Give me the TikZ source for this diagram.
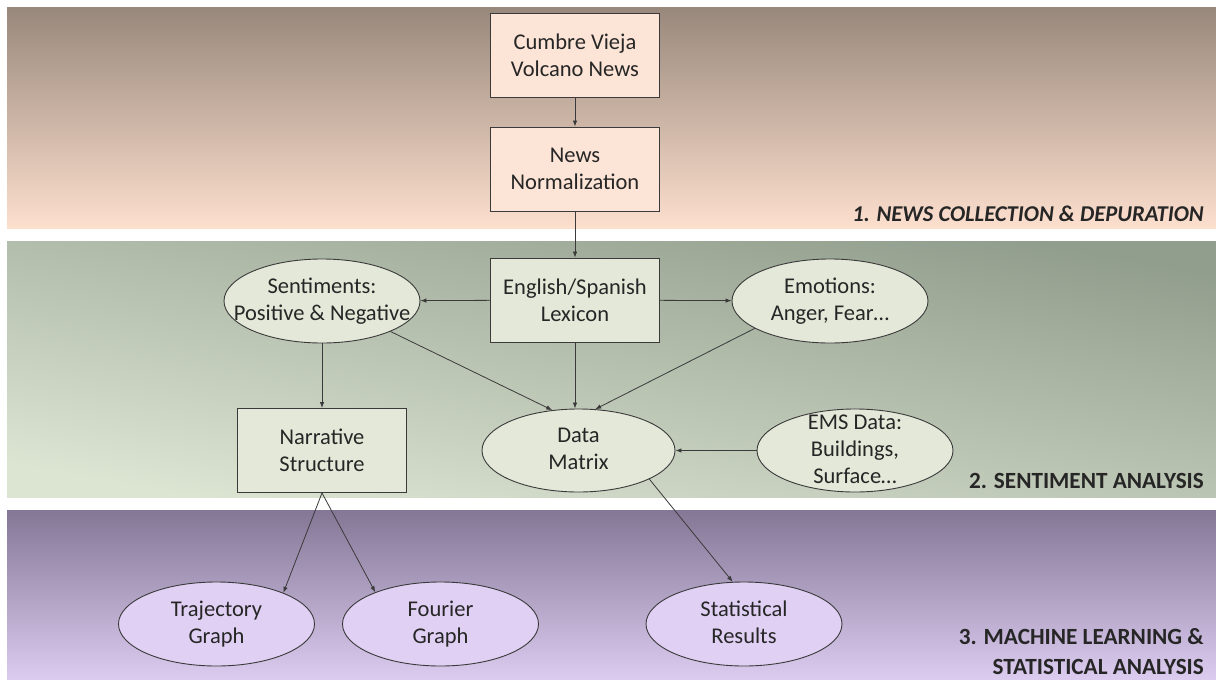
\documentclass[tikz,border=0pt]{standalone}
\usepackage{fontspec}
\setmainfont{Carlito}
\usetikzlibrary{shapes.geometric,arrows.meta}
\newcommand{\ctext}[1]{\smash{\makebox[0pt]{\raisebox{-0.25em}{\begin{tabular}{@{}c@{}}#1\end{tabular}}}}}
\definecolor{lineC}{HTML}{3A3A3A}
\definecolor{txtC}{HTML}{262626}
\definecolor{bOneTop}{HTML}{98887B}
\definecolor{bOneBot}{HTML}{FDDFCE}
\definecolor{bTwoTop}{HTML}{929E8D}
\definecolor{bTwoBot}{HTML}{DCE4D2}
\definecolor{bThrTop}{HTML}{847796}
\definecolor{bThrBot}{HTML}{DCCCF0}
\definecolor{fillOne}{HTML}{FCE4D6}
\definecolor{fillTwo}{HTML}{E3E8D8}
\definecolor{fillThr}{HTML}{E0D0F4}
\tikzset{
  nodefont/.style={font=\fontsize{22.5}{27}\selectfont, text=txtC},
  boxnode/.style={nodefont, rectangle, draw=lineC, line width=0.9pt, minimum width=169pt, minimum height=84pt, align=center, inner sep=2pt},
  ellnode/.style={nodefont, ellipse, draw=lineC, line width=0.9pt, minimum width=196pt, minimum height=84pt, inner sep=0pt},
  arr/.style={draw=lineC, line width=0.8pt, -{Latex[length=6pt,width=4.5pt]}},
  lbl/.style={text=txtC, inner sep=0pt, anchor=east, font=\fontsize{23.2}{30}\selectfont\bfseries, align=right}
}
\begin{document}
\begin{tikzpicture}[x=1pt,y=-1pt]
\useasboundingbox (0,0) rectangle (1216,680);
\fill[white] (0,0) rectangle (1216,680);
% bands
\shade[top color=bOneTop, bottom color=bOneBot] (7,7) rectangle (1216,228);
\shade[top color=bTwoTop, bottom color=bTwoBot, shading angle=-10] (7,241) rectangle (1216,497);
\shade[top color=bThrTop, bottom color=bThrBot] (7,510) rectangle (1216,680);

% stage 1
\node[boxnode, fill=fillOne] (cvn) at (575,55) {Cumbre Vieja\\Volcano News};
\node[boxnode, fill=fillOne] (nn) at (575,169) {News\\Normalization};

% stage 2
\node[boxnode, fill=fillTwo] (lex) at (575,300) {English/Spanish\\Lexicon};
\node[ellnode, fill=fillTwo] (sent) at (322,301) {\ctext{Sentiments:\\Positive \& Negative}};
\node[ellnode, fill=fillTwo] (emo) at (830,301) {\ctext{Emotions:\\Anger, Fear…}};
\node[boxnode, fill=fillTwo] (narr) at (322,450.5) {Narrative\\Structure};
\node[ellnode, fill=fillTwo, minimum width=193pt, minimum height=83pt] (dm) at (578.5,450.5) {\ctext{Data\\Matrix}};
\node[ellnode, fill=fillTwo, minimum height=83pt] (ems) at (855,450.5) {\ctext{EMS Data:\\Buildings,\\Surface…}};

% stage 3
\node[ellnode, fill=fillThr] (traj) at (216.5,624) {\ctext{Trajectory\\Graph}};
\node[ellnode, fill=fillThr] (four) at (440.5,624) {\ctext{Fourier\\Graph}};
\node[ellnode, fill=fillThr] (stat) at (744,624) {\ctext{Statistical\\Results}};

% labels
\node[lbl, font=\fontsize{22.6}{30}\selectfont\bfseries\itshape] (l1) at (1204,214) {1. NEWS COLLECTION \& DEPURATION};
\node[lbl] (l2) at (1204,481) {2. SENTIMENT ANALYSIS};
\node[lbl] (l3) at (1204,652) {3. MACHINE LEARNING \&\\STATISTICAL ANALYSIS};

% connectors
\draw[arr] (cvn) -- (nn);
\draw[arr] (nn) -- (lex);
\draw[arr] (lex) -- (sent);
\draw[arr] (lex) -- (emo);
\draw[arr] (sent) -- (narr);
\draw[arr] (sent.-24.6) -- (dm.123.6);
\draw[arr] (lex.south) -- (lex.south |- dm.north);
\draw[arr] (emo.200) -- (dm.68);
\draw[arr] (ems) -- (dm);
\draw[arr] (narr.south) -- (traj.25.7);
\draw[arr] (narr.south) -- (four.154.6);
\draw[arr] (dm.-22) -- (stat.105);
\end{tikzpicture}
\end{document}
